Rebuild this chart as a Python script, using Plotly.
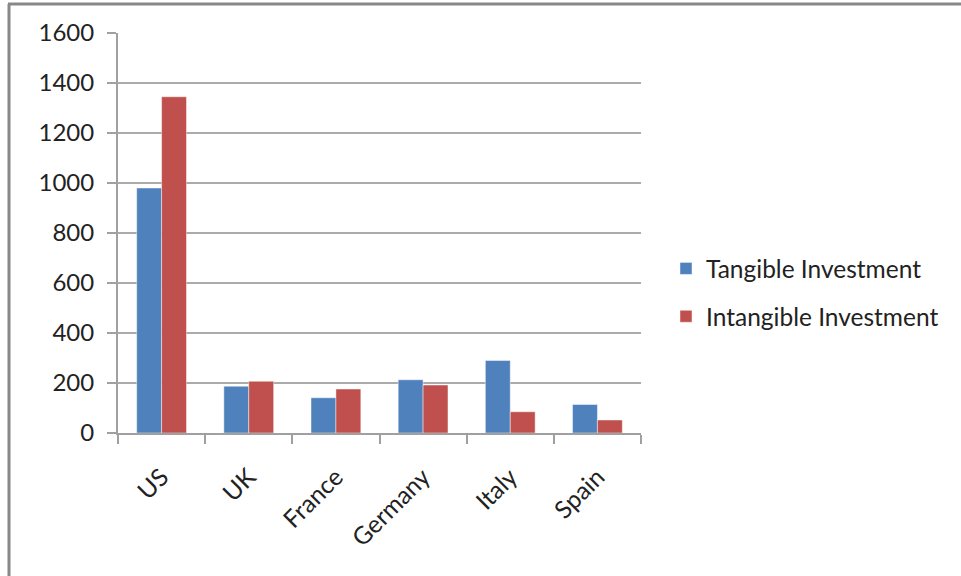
import plotly.graph_objects as go

countries = ["US", "UK", "France", "Germany", "Italy", "Spain"]
tangible = [980, 187, 141, 213, 290, 114]
intangible = [1345, 207, 176, 192, 85, 52]
series_names = ["Tangible Investment", "Intangible Investment"]
colors = ["#4F81BD", "#C0504D"]

W, H = 961, 576
ML, MR, MT, MB = 118, 320, 33, 143
PW, PH = W - ML - MR, H - MT - MB

def px_x(x):
    return (x - ML) / PW

def px_y(y):
    return (H - MB - y) / PH

fig = go.Figure()
for name, vals, col, grp in zip(series_names, [tangible, intangible], colors, ["a", "b"]):
    fig.add_trace(go.Bar(
        x=countries, y=vals, name=name, legendgroup=grp,
        marker=dict(color=col, line=dict(color="rgba(255,255,255,0.45)", width=1)),
    ))

font = "Lato, 'Open Sans', sans-serif"
fig.update_layout(
    width=W, height=H,
    margin=dict(l=ML, r=MR, t=MT, b=MB, pad=0),
    paper_bgcolor="white", plot_bgcolor="white",
    barmode="group", bargap=0.4286, bargroupgap=0,
    font=dict(family=font, size=24, color="#222222"),
    legend=dict(
        x=px_x(666), y=px_y(246), xanchor="left", yanchor="top",
        font=dict(size=24.5, color="#222222"),
        bgcolor="rgba(0,0,0,0)", traceorder="grouped", tracegroupgap=13,
    ),
    xaxis=dict(
        type="category", tickson="boundaries", ticks="outside", ticklen=9,
        tickcolor="#a0a0a0", tickwidth=2, showline=True, linecolor="#a0a0a0",
        linewidth=2, showgrid=False, tickangle=-45, ticklabelstandoff=18,
        tickfont=dict(size=24.5, color="#222222"),
    ),
    yaxis=dict(
        range=[0, 1600], dtick=200, ticks="outside", ticklen=9,
        tickcolor="#a0a0a0", tickwidth=2, showline=True, linecolor="#a0a0a0",
        linewidth=2, showgrid=True, gridcolor="#ababab", gridwidth=2,
        zeroline=False, ticklabelstandoff=8,
        tickfont=dict(size=24, color="#222222"),
    ),
    shapes=[
        dict(type="line", xref="paper", yref="paper", x0=px_x(9), x1=px_x(9),
             y0=px_y(4), y1=px_y(H + 5), line=dict(color="#888888", width=3)),
        dict(type="line", xref="paper", yref="paper", x0=px_x(8), x1=px_x(W + 5),
             y0=px_y(4), y1=px_y(4), line=dict(color="#888888", width=3)),
    ],
)

fig.write_html("out.html")
